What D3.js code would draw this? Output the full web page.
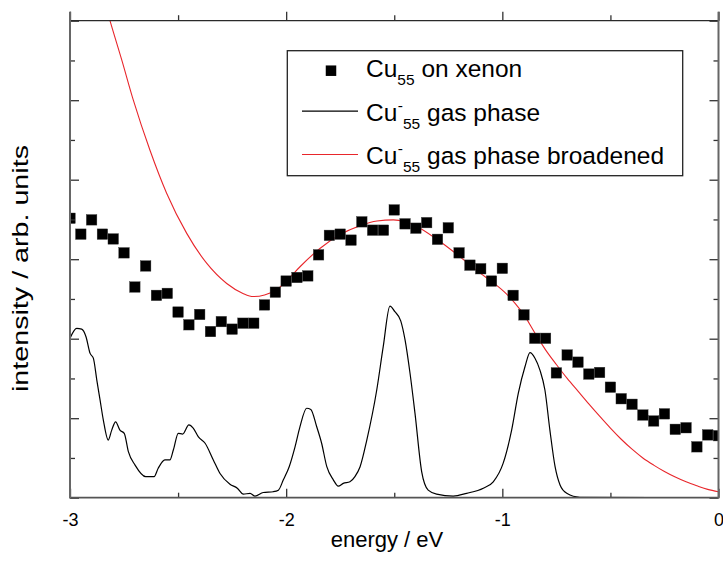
<!DOCTYPE html>
<html>
<head>
<meta charset="utf-8">
<script src="https://cdn.jsdelivr.net/npm/d3@7"></script>
<style>
  html, body { margin: 0; padding: 0; background: #fff; }
  svg { display: block; font-family: "Liberation Sans", Arial, sans-serif; }
</style>
</head>
<body>
<svg id="chart" width="723" height="568"></svg>
<script>
// Cu55 deposited on xenon: photoelectron intensity, 0.05 eV steps
const xenonEnergy = [
  -3.00, -2.95, -2.90, -2.85, -2.80, -2.75, -2.70, -2.65, -2.60, -2.55,
  -2.50, -2.45, -2.40, -2.35, -2.30, -2.25, -2.20, -2.15, -2.10, -2.05,
  -2.00, -1.95, -1.90, -1.85, -1.80, -1.75, -1.70, -1.65, -1.60, -1.55,
  -1.50, -1.45, -1.40, -1.35, -1.30, -1.25, -1.20, -1.15, -1.10, -1.05,
  -1.00, -0.95, -0.90, -0.85, -0.80, -0.75, -0.70, -0.65, -0.60, -0.55,
  -0.50, -0.45, -0.40, -0.35, -0.30, -0.25, -0.20, -0.15, -0.10, -0.05,
   0.00
];
const xenonIntensity = [
  7.03, 6.63, 6.99, 6.63, 6.51, 6.16, 5.30, 5.83, 5.09, 5.14,
  4.67, 4.35, 4.61, 4.18, 4.43, 4.24, 4.39, 4.39, 4.85, 5.17,
  5.45, 5.54, 5.58, 6.11, 6.60, 6.63, 6.48, 6.94, 6.73, 6.73,
  7.24, 6.89, 6.78, 6.92, 6.50, 6.79, 6.16, 5.85, 5.76, 5.45,
  5.77, 5.09, 4.60, 4.01, 4.01, 3.14, 3.59, 3.41, 3.11, 3.15,
  2.78, 2.49, 2.35, 2.08, 1.93, 2.11, 1.72, 1.76, 1.28, 1.58,
  1.56
];

// Cu55- anion, gas phase spectrum
const gasEnergy = [
  -3.000, -2.969, -2.946, -2.926, -2.907, -2.892, -2.876, -2.861, -2.846, -2.823,
  -2.807, -2.789, -2.769, -2.749, -2.730, -2.699, -2.650, -2.611, -2.592, -2.561,
  -2.538, -2.522, -2.499, -2.479, -2.450, -2.430, -2.406, -2.375, -2.337, -2.306,
  -2.260, -2.226, -2.198, -2.167, -2.144, -2.106, -2.060, -2.036, -2.013, -1.986,
  -1.959, -1.936, -1.905, -1.886, -1.859, -1.836, -1.812, -1.782, -1.759, -1.736,
  -1.705, -1.682, -1.658, -1.627, -1.581, -1.551, -1.520, -1.497, -1.470, -1.450,
  -1.427, -1.404, -1.373, -1.343, -1.304, -1.227, -1.165, -1.088, -1.042, -0.996,
  -0.957, -0.926, -0.895, -0.872, -0.849, -0.826, -0.803, -0.780, -0.756, -0.733,
  -0.702, -0.641, -0.309
];
const gasIntensity = [
  4.01, 4.26, 4.24, 4.05, 3.63, 3.51, 2.96, 2.46, 1.96, 1.45,
  1.70, 1.91, 1.70, 1.62, 1.16, 0.82, 0.53, 0.53, 0.74, 0.95,
  0.95, 1.20, 1.62, 1.60, 1.83, 1.75, 1.53, 1.37, 0.95, 0.61,
  0.34, 0.24, 0.09, 0.11, 0.04, 0.13, 0.15, 0.19, 0.45, 0.78,
  1.28, 1.79, 2.25, 2.22, 1.79, 1.37, 0.78, 0.45, 0.29, 0.36,
  0.40, 0.53, 0.78, 1.45, 2.71, 3.80, 4.82, 4.68, 4.45, 3.97,
  3.13, 2.12, 0.65, 0.19, 0.09, 0.04, 0.11, 0.24, 0.40, 0.87,
  1.70, 2.63, 3.30, 3.65, 3.51, 3.21, 2.71, 1.70, 0.78, 0.32,
  0.11, 0.01, 0.00
];

// Gas phase spectrum after broadening
const broadEnergy = [
  -3.000, -2.900, -2.815, -2.760, -2.707, -2.630, -2.553, -2.460, -2.368, -2.275,
  -2.200, -2.152, -2.100, -2.044, -1.990, -1.936, -1.844, -1.750, -1.658, -1.580,
  -1.504, -1.450, -1.396, -1.303, -1.196, -1.103, -1.040, -0.980, -0.940, -0.900,
  -0.850, -0.800, -0.750, -0.700, -0.650, -0.600, -0.550, -0.500, -0.450, -0.400,
  -0.350, -0.300, -0.250, -0.200, -0.150, -0.100, -0.050, 0.000
];
const broadIntensity = [
  15.8, 13.7, 12.0, 11.0, 10.0, 8.74, 7.66, 6.65, 5.90, 5.39,
  5.14, 5.06, 5.10, 5.23, 5.50, 5.81, 6.27, 6.62, 6.84, 6.96,
  6.99, 6.94, 6.82, 6.50, 6.06, 5.65, 5.40, 5.12, 4.88, 4.60,
  4.15, 3.72, 3.35, 3.00, 2.68, 2.36, 2.05, 1.75, 1.47, 1.22,
  1.00, 0.82, 0.66, 0.52, 0.40, 0.30, 0.21, 0.15
];

const energyTickLabels = [-3, -2, -1, 0];
const energyMinorTicks = [-2.5, -1.5, -0.5];
const intensityMajorTicks = [0, 2, 4, 6, 8, 10, 12];
const intensityMinorTicks = [1, 3, 5, 7, 9, 11];

const xAxisTitle = "energy / eV";
const yAxisTitle = "intensity / arb. units";

// ---- layout ----
const plot = { left: 70, right: 718.5, top: 20.7, bottom: 497.7 };
const FONT = '"Liberation Sans", Arial, sans-serif';

const svg = d3.select("#chart");

const x = d3.scaleLinear().domain([-3, 0]).range([plot.left, plot.right]);
const y = d3.scaleLinear().domain([0, 12]).range([plot.bottom, plot.top]);

svg.append("defs").append("clipPath").attr("id", "plot-clip")
  .append("rect")
  .attr("x", plot.left).attr("y", plot.top)
  .attr("width", plot.right - plot.left).attr("height", plot.bottom - plot.top);

const dataLayer = svg.append("g").attr("clip-path", "url(#plot-clip)");

const toPoints = (xs, ys) => xs.map((e, i) => [e, ys[i]]);
const line = d3.line().x(d => x(d[0])).y(d => y(d[1])).curve(d3.curveMonotoneX);

// broadened gas phase curve
dataLayer.append("path")
  .attr("d", line(toPoints(broadEnergy, broadIntensity)))
  .attr("fill", "none").attr("stroke", "#e8262b").attr("stroke-width", 1.1);

// gas phase curve
dataLayer.append("path")
  .attr("d", line(toPoints(gasEnergy, gasIntensity)))
  .attr("fill", "none").attr("stroke", "#000").attr("stroke-width", 1.2)
  .attr("stroke-linejoin", "round");

// xenon-supported cluster: square markers
const sq = 10.5;
dataLayer.selectAll("rect.pt")
  .data(toPoints(xenonEnergy, xenonIntensity))
  .join("rect").attr("class", "pt")
  .attr("x", d => x(d[0]) - sq / 2).attr("y", d => y(d[1]) - sq / 2)
  .attr("width", sq).attr("height", sq)
  .attr("fill", "#000").attr("stroke", "#333").attr("stroke-width", 0.4);

// ---- axes ----
function styleAxis(g) {
  g.attr("font-family", FONT).attr("font-size", 18);
  g.select(".domain").remove();
  g.selectAll(".tick line").attr("stroke", "#333").attr("stroke-width", 1.3);
  g.selectAll(".tick text").attr("fill", "#000").attr("font-size", 18);
}

// bottom: labelled integer ticks, inward
svg.append("g").attr("transform", `translate(0,${plot.bottom})`)
  .call(d3.axisBottom(x).tickValues(energyTickLabels).tickSizeInner(-9).tickSizeOuter(0)
    .tickPadding(16).tickFormat(d => d === 0 ? "0" : "-" + Math.abs(d)))
  .call(styleAxis);
svg.append("g").attr("transform", `translate(0,${plot.bottom})`)
  .call(d3.axisBottom(x).tickValues(energyMinorTicks).tickSizeInner(-5).tickSizeOuter(0).tickFormat(""))
  .call(styleAxis);

// top: ticks pointing outward
svg.append("g").attr("transform", `translate(0,${plot.top})`)
  .call(d3.axisTop(x).tickValues(energyTickLabels).tickSizeInner(9).tickSizeOuter(0).tickFormat(""))
  .call(styleAxis);
svg.append("g").attr("transform", `translate(0,${plot.top})`)
  .call(d3.axisTop(x).tickValues(energyMinorTicks).tickSizeInner(5.5).tickSizeOuter(0).tickFormat(""))
  .call(styleAxis);

// left and right: unlabelled, inward
svg.append("g").attr("transform", `translate(${plot.left},0)`)
  .call(d3.axisLeft(y).tickValues(intensityMajorTicks).tickSizeInner(-9).tickSizeOuter(0).tickFormat(""))
  .call(styleAxis);
svg.append("g").attr("transform", `translate(${plot.left},0)`)
  .call(d3.axisLeft(y).tickValues(intensityMinorTicks).tickSizeInner(-5).tickSizeOuter(0).tickFormat(""))
  .call(styleAxis);
svg.append("g").attr("transform", `translate(${plot.right},0)`)
  .call(d3.axisRight(y).tickValues(intensityMajorTicks).tickSizeInner(-9).tickSizeOuter(0).tickFormat(""))
  .call(styleAxis);
svg.append("g").attr("transform", `translate(${plot.right},0)`)
  .call(d3.axisRight(y).tickValues(intensityMinorTicks).tickSizeInner(-5).tickSizeOuter(0).tickFormat(""))
  .call(styleAxis);

// frame
const frame = svg.append("g").attr("fill", "none");
frame.append("line").attr("x1", plot.left).attr("x2", plot.right).attr("y1", plot.top).attr("y2", plot.top)
  .attr("stroke", "#2a2a2a").attr("stroke-width", 1.3);
frame.append("line").attr("x1", plot.left).attr("x2", plot.right).attr("y1", plot.bottom).attr("y2", plot.bottom)
  .attr("stroke", "#555").attr("stroke-width", 1.8);
frame.append("line").attr("x1", plot.left).attr("x2", plot.left).attr("y1", plot.top - 9).attr("y2", plot.bottom + 0.9)
  .attr("stroke", "#666").attr("stroke-width", 2);
frame.append("line").attr("x1", plot.right).attr("x2", plot.right).attr("y1", plot.top - 9).attr("y2", plot.bottom + 0.9)
  .attr("stroke", "#666").attr("stroke-width", 2);

// axis titles
svg.append("text")
  .attr("x", 387).attr("y", 547)
  .attr("text-anchor", "middle")
  .attr("font-family", FONT).attr("font-size", 22)
  .text(xAxisTitle);

svg.append("text")
  .attr("transform", "translate(28,268.5) rotate(-90)")
  .attr("text-anchor", "middle")
  .attr("textLength", 247).attr("lengthAdjust", "spacingAndGlyphs")
  .attr("font-family", FONT).attr("font-size", 22)
  .text(yAxisTitle);

// ---- legend ----
const legend = svg.append("g").attr("font-family", FONT);
legend.append("rect")
  .attr("x", 287.3).attr("y", 50.7).attr("width", 395.4).attr("height", 125)
  .attr("fill", "#fff").attr("stroke", "#222").attr("stroke-width", 1.3);

const rowBase = [77, 120.5, 163.8];
const textX = 366;
const mainSize = 24.5, smallSize = 15.5;

// row 1: squares
legend.append("rect")
  .attr("x", 331 - sq / 2).attr("y", 70.7 - sq / 2).attr("width", sq).attr("height", sq)
  .attr("fill", "#000");
const t1 = legend.append("text").attr("x", textX).attr("y", rowBase[0]).attr("font-size", mainSize);
t1.append("tspan").text("Cu");
t1.append("tspan").attr("dy", 8.3).attr("font-size", smallSize).text("55");
t1.append("tspan").attr("dy", -8.3).text(" on xenon");

// rows 2 and 3: lines
const lineRows = [
  { base: rowBase[1], color: "#000", label: " gas phase" },
  { base: rowBase[2], color: "#e8262b", label: " gas phase broadened" }
];
lineRows.forEach(r => {
  legend.append("line")
    .attr("x1", 302).attr("x2", 358)
    .attr("y1", r.base - 9.3).attr("y2", r.base - 9.3)
    .attr("stroke", r.color).attr("stroke-width", 1.2);
  const t = legend.append("text").attr("x", textX).attr("y", r.base).attr("font-size", mainSize);
  t.append("tspan").text("Cu");
  t.append("tspan").attr("dy", -9.5).attr("dx", 0.5).attr("font-size", smallSize).text("-");
  t.append("tspan").attr("dy", 17.7).attr("dx", 0).attr("font-size", smallSize).text("55");
  t.append("tspan").attr("dy", -8.2).text(r.label);
});
</script>
</body>
</html>
